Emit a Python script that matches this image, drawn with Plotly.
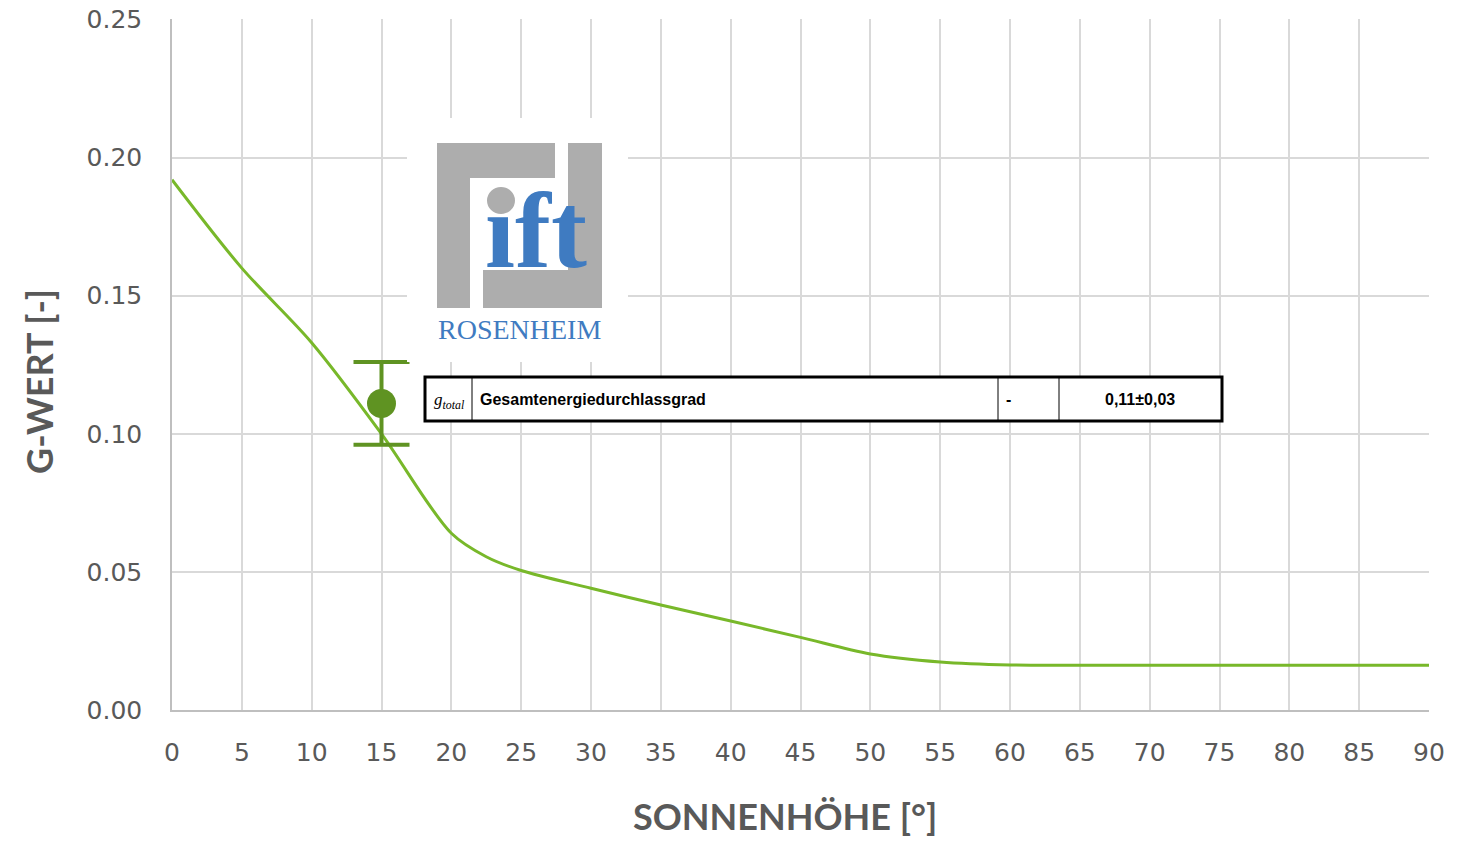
import plotly.graph_objects as go

# ---- data ----
sun_angle = [0, 5, 10, 15, 20, 22.5, 25, 30, 35, 40, 45, 50, 55, 60, 65, 70, 75, 80, 85, 90]
g_value = [0.192, 0.160, 0.133, 0.100, 0.064, 0.0555, 0.0505, 0.0441, 0.038, 0.0322, 0.0263,
           0.0203, 0.0174, 0.0163, 0.0162, 0.0162, 0.0162, 0.0162, 0.0162, 0.0162]
meas_angle = [15]
meas_g = [0.111]
meas_err = [0.015]
x_ticks = list(range(0, 95, 5))
y_ticks = [0.0, 0.05, 0.10, 0.15, 0.20, 0.25]

OFF = 8  # page body margin
W, H = 1473 - OFF, 841 - OFF
L, R, T, B = 172 - OFF, 44, 19 - OFF, 131
PW, PH = W - L - R, H - T - B


def X(px):
    return (px - OFF - L) / PW


def Y(py):
    return (H - B - (py - OFF)) / PH


GRAY_TXT = "#595959"
fig = go.Figure()
fig.add_trace(go.Scatter(x=sun_angle, y=g_value, mode="lines",
                         line=dict(color="#78b82a", width=3, shape="spline", smoothing=0.9),
                         showlegend=False, hoverinfo="skip"))
fig.add_trace(go.Scatter(x=meas_angle, y=meas_g, mode="markers",
                         marker=dict(color="#5f9322", size=29),
                         error_y=dict(type="data", array=meas_err, color="#5f9322",
                                      thickness=4, width=28),
                         showlegend=False))

shapes = []
annotations = []
# logo background
shapes.append(dict(type="rect", xref="paper", yref="paper", x0=X(407), x1=X(628), y0=Y(362), y1=Y(118),
                   fillcolor="white", line=dict(width=0), layer="above"))
# gray frame
shapes.append(dict(type="rect", xref="paper", yref="paper", x0=X(437), x1=X(602), y0=Y(308), y1=Y(143),
                   fillcolor="#adadad", line=dict(width=0), layer="above"))
for (x0, x1, y0, y1) in [(470, 568, 178, 270), (555, 568, 143, 178), (470, 483, 270, 308)]:
    shapes.append(dict(type="rect", xref="paper", yref="paper", x0=X(x0), x1=X(x1), y0=Y(y1), y1=Y(y0),
                       fillcolor="white", line=dict(width=0), layer="above"))
# gray dot of the i
shapes.append(dict(type="circle", xref="paper", yref="paper", x0=X(487), x1=X(515), y0=Y(214), y1=Y(187),
                   fillcolor="#adadad", line=dict(width=0), layer="above"))
annotations.append(dict(xref="paper", yref="paper", x=X(536), y=Y(230), text="<b>\u0131ft</b>",
                        showarrow=False, xanchor="center", yanchor="middle",
                        font=dict(family="Liberation Serif", size=108, color="#3f7bc1")))
annotations.append(dict(xref="paper", yref="paper", x=X(519), y=Y(329), text="ROSENHEIM",
                        showarrow=False, xanchor="center", yanchor="middle",
                        font=dict(family="Liberation Serif", size=28, color="#3f7bc1")))

# table
shapes.append(dict(type="rect", xref="paper", yref="paper", x0=X(425), x1=X(1222), y0=Y(421), y1=Y(377),
                   fillcolor="white", line=dict(color="black", width=3), layer="above"))
for xd in [472, 998, 1059]:
    shapes.append(dict(type="line", xref="paper", yref="paper", x0=X(xd), x1=X(xd), y0=Y(420), y1=Y(378),
                       line=dict(color="black", width=1), layer="above"))
annotations.append(dict(xref="paper", yref="paper", x=X(432), y=Y(401),
                        text="<i>g</i><sub><i>total</i></sub>", showarrow=False, xanchor="left", yanchor="middle",
                        font=dict(family="Liberation Serif", size=17, color="black")))
annotations.append(dict(xref="paper", yref="paper", x=X(478), y=Y(399),
                        text="<b>Gesamtenergiedurchlassgrad</b>", showarrow=False, xanchor="left", yanchor="middle",
                        font=dict(family="Liberation Sans", size=16, color="black")))
annotations.append(dict(xref="paper", yref="paper", x=X(1008), y=Y(399),
                        text="<b>-</b>", showarrow=False, xanchor="center", yanchor="middle",
                        font=dict(family="Liberation Sans", size=16, color="black")))
annotations.append(dict(xref="paper", yref="paper", x=X(1140), y=Y(399),
                        text="<b>0,11±0,03</b>", showarrow=False, xanchor="center", yanchor="middle",
                        font=dict(family="Liberation Sans", size=16, color="black")))

# axis titles
annotations.append(dict(xref="paper", yref="paper", x=X(785), y=Y(816), text="<b>SONNENHÖHE [°]</b>",
                        showarrow=False, xanchor="center", yanchor="middle",
                        font=dict(family="Lato", size=36, color=GRAY_TXT)))
annotations.append(dict(xref="paper", yref="paper", x=X(39), y=Y(382), text="<b>G-WERT [-]</b>",
                        showarrow=False, xanchor="center", yanchor="middle", textangle=-90,
                        font=dict(family="Lato", size=36, color=GRAY_TXT)))

fig.update_layout(
    width=W, height=H,
    margin=dict(l=L, r=R, t=T, b=B, autoexpand=False),
    paper_bgcolor="white", plot_bgcolor="white",
    shapes=shapes, annotations=annotations,
    xaxis=dict(range=[0, 90], tickvals=x_ticks, showgrid=True, gridcolor="#d9d9d9", gridwidth=1.5,
               showline=True, linecolor="#bfbfbf", linewidth=1.5, zeroline=False, automargin=False,
               tickfont=dict(family="DejaVu Sans", size=25, color=GRAY_TXT), ticks="",
               ticklabelstandoff=19, ticklabeloverflow="allow"),
    yaxis=dict(range=[0, 0.2502], tickvals=y_ticks, tickformat=".2f", showgrid=True, gridcolor="#d9d9d9",
               gridwidth=1.5, showline=True, linecolor="#bfbfbf", linewidth=1.5, zeroline=False,
               automargin=False, ticklabeloverflow="allow",
               tickfont=dict(family="DejaVu Sans", size=25, color=GRAY_TXT), ticks="",
               ticklabelstandoff=23),
)
fig.write_html("out.html")
